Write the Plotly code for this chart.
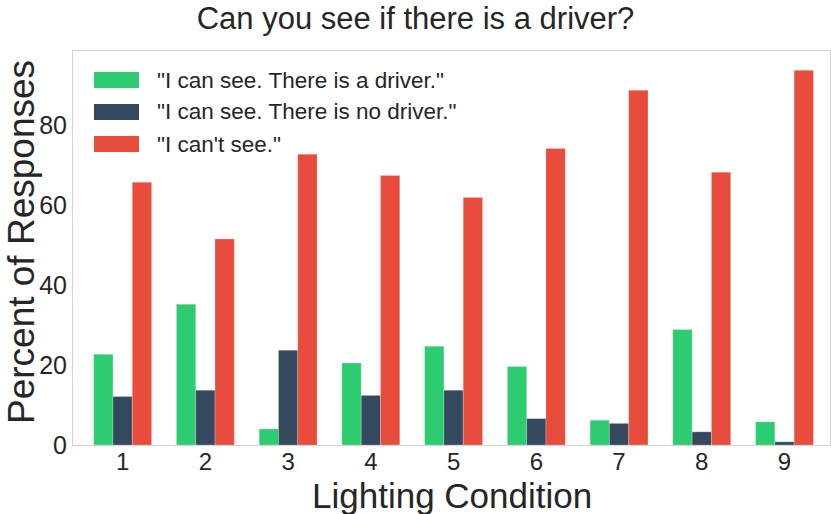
import plotly.graph_objects as go

# Data
conditions = [1, 2, 3, 4, 5, 6, 7, 8, 9]
driver = [22.7, 35.2, 4.0, 20.5, 24.7, 19.6, 6.2, 28.9, 5.8]
no_driver = [12.1, 13.7, 23.7, 12.4, 13.7, 6.6, 5.4, 3.3, 0.8]
cant_see = [65.7, 51.5, 72.7, 67.4, 61.9, 74.1, 88.7, 68.2, 93.7]

series_names = [
    '"I can see. There is a driver."',
    '"I can see. There is no driver."',
    '"I can\'t see."',
]
series_colors = ["#2ecc71", "#34495e", "#e74c3c"]

TEXT = "#262626"
FONT = "Liberation Sans, Arial, sans-serif"
FRAME = "#d4d4d4"

fig = go.Figure()

for name, values, color in zip(series_names, [driver, no_driver, cant_see], series_colors):
    fig.add_trace(
        go.Bar(
            x=conditions,
            y=values,
            name=name,
            marker=dict(color=color, line=dict(color="rgba(255,255,255,0.4)", width=0.6)),
            showlegend=False,
        )
    )

# pixel helpers, the plot box is fixed (no automargin)
W, H = 831, 514
L, R, T, B = 73, 1, 51, 69
pw, ph = W - L - R, H - T - B


def px_x(x):
    return (x - L) / pw


def px_y(y):
    return (H - B - y) / ph


# legend drawn by hand to get the wide seaborn-style swatches
for i, (name, color) in enumerate(zip(series_names, series_colors)):
    cy = 80 + 32 * i
    fig.add_shape(
        type="rect", xref="paper", yref="paper",
        x0=px_x(94), x1=px_x(139), y0=px_y(cy + 8), y1=px_y(cy - 8),
        fillcolor=color, line=dict(width=0),
    )
    fig.add_annotation(
        xref="paper", yref="paper", x=px_x(155), y=px_y(cy),
        xanchor="left", yanchor="middle", showarrow=False,
        text=name, font=dict(size=22.5, color=TEXT, family=FONT),
    )

# axis titles
fig.add_annotation(
    xref="paper", yref="paper", x=px_x(452), y=px_y(495),
    xanchor="center", yanchor="middle", showarrow=False,
    text="Lighting Condition", font=dict(size=35, color=TEXT, family=FONT),
)
fig.add_annotation(
    xref="paper", yref="paper", x=px_x(22), y=px_y(242),
    xanchor="center", yanchor="middle", showarrow=False, textangle=-90,
    text="Percent of Responses", font=dict(size=37, color=TEXT, family=FONT),
)

fig.update_xaxes(
    range=[0.4, 9.55],
    tickvals=conditions,
    ticks="",
    showgrid=False,
    zeroline=False,
    automargin=False,
    ticklabelstandoff=-5,
    showline=True, linecolor=FRAME, linewidth=1, mirror=True,
    tickfont=dict(size=24, color=TEXT, family=FONT),
)

fig.update_yaxes(
    range=[0, 98.5],
    tickvals=[0, 20, 40, 60, 80],
    ticks="",
    showgrid=False,
    zeroline=False,
    automargin=False,
    showline=True, linecolor=FRAME, linewidth=1, mirror=True,
    tickfont=dict(size=25, color=TEXT, family=FONT),
)

fig.update_layout(
    barmode="group",
    bargap=0.3,
    bargroupgap=0,
    title=dict(
        text="Can you see if there is a driver?",
        x=0.5, xanchor="center",
        y=1 - 18 / H, yanchor="middle",
        font=dict(size=31, color=TEXT, family=FONT),
        automargin=False,
    ),
    width=W,
    height=H,
    margin=dict(l=L, r=R, t=T, b=B),
    plot_bgcolor="white",
    paper_bgcolor="white",
    font=dict(family=FONT, color=TEXT),
)

# drop the browser's default body margin so the figure sits at the corner
fig.write_html(
    "out.html",
    config={"displayModeBar": False},
    post_script="document.body.style.margin = '0';",
)
